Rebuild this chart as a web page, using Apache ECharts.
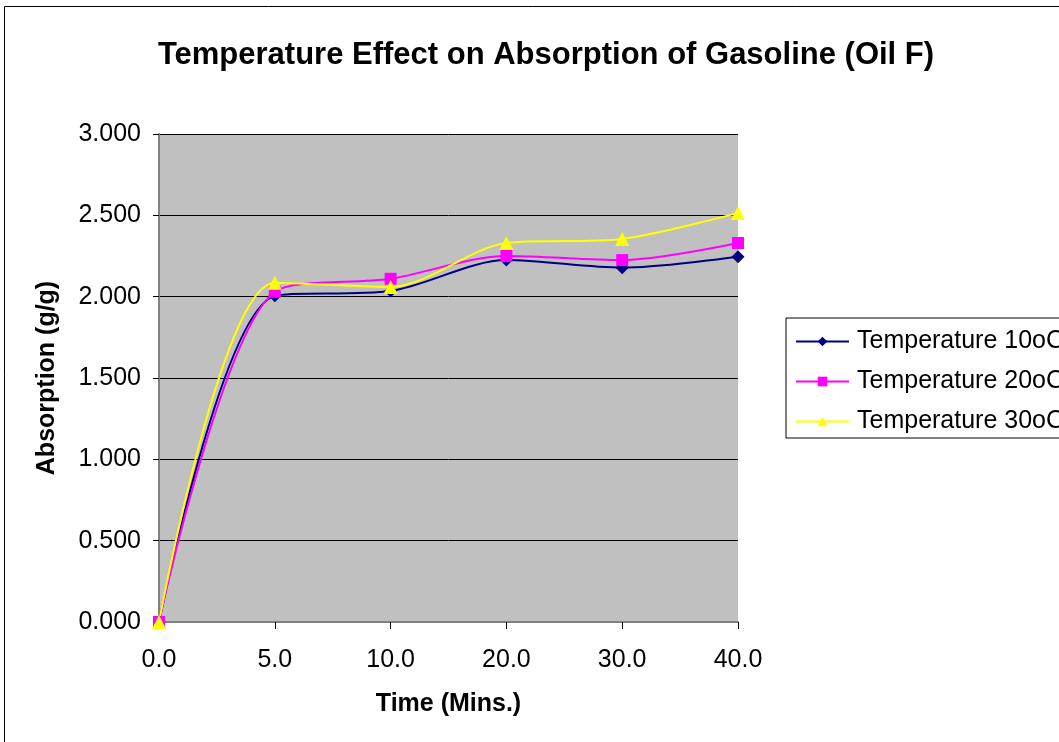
<!DOCTYPE html>
<html>
<head>
<meta charset="utf-8">
<script src="https://cdn.jsdelivr.net/npm/echarts@6/dist/echarts.min.js"></script>
<style>
html,body{margin:0;padding:0;background:#fff;overflow:hidden;}
#chart{width:1059px;height:742px;}
</style>
</head>
<body>
<div id="chart"></div>
<script>
// Absorption of gasoline (Oil F) over time at three temperatures
const times = ['0.0', '5.0', '10.0', '20.0', '30.0', '40.0'];
const temp10 = [0.000, 2.005, 2.035, 2.225, 2.178, 2.245];
const temp20 = [0.000, 2.030, 2.110, 2.250, 2.225, 2.330];
const temp30 = [0.000, 2.085, 2.060, 2.330, 2.355, 2.515];

const FONT = 'Liberation Sans, Arial, sans-serif';
const chart = echarts.init(document.getElementById('chart'));

function line(name, data, color, symbol, size) {
  return {
    name, type: 'line', data, smooth: 0.3,
    symbol, symbolSize: size, showSymbol: true,
    lineStyle: { color, width: 2 },
    itemStyle: { color },
    z: 3
  };
}

chart.setOption({
  animation: false,
  backgroundColor: '#fff',
  title: {
    text: 'Temperature Effect on Absorption of Gasoline (Oil F)',
    left: 541, top: 35, textAlign: 'center',
    textStyle: { fontFamily: FONT, fontSize: 31, fontWeight: 'bold', color: '#000' }
  },
  graphic: [{
    type: 'rect', shape: { x: 4.5, y: 6.5, width: 1100, height: 800 },
    style: { fill: 'none', stroke: '#000', lineWidth: 1 }, silent: true
  }],
  legend: {
    orient: 'vertical', left: 786, top: 318,
    itemWidth: 53, itemHeight: 12, itemGap: 15,
    backgroundColor: '#fff', borderColor: '#000', borderWidth: 1,
    padding: [11, 40, 4, 9],
    textStyle: { fontFamily: FONT, fontSize: 25, color: '#000', padding: [0, 0, 0, 3] },
    data: ['Temperature 10oC', 'Temperature 20oC', 'Temperature 30oC']
  },
  grid: { left: 159, top: 134, width: 579, height: 488, show: true, backgroundColor: '#C0C0C0', borderWidth: 0 },
  xAxis: {
    type: 'category', data: times, boundaryGap: false,
    name: 'Time (Mins.)', nameLocation: 'middle', nameGap: 70,
    nameTextStyle: { fontFamily: FONT, fontSize: 25, fontWeight: 'bold', color: '#000' },
    axisLine: { lineStyle: { color: '#808080', width: 2 } },
    axisTick: { show: true, length: 7, lineStyle: { color: '#000' } },
    axisLabel: { fontFamily: FONT, fontSize: 25, color: '#000', margin: 26 },
    splitLine: { show: false }
  },
  yAxis: {
    type: 'value', min: 0, max: 3, interval: 0.5,
    name: 'Absorption (g/g)', nameLocation: 'middle', nameGap: 99, nameRotate: 90,
    nameTextStyle: { fontFamily: FONT, fontSize: 25, fontWeight: 'bold', color: '#000' },
    axisLine: { show: true, lineStyle: { color: '#808080', width: 2 } },
    axisTick: { show: true, length: 6, lineStyle: { color: '#000' } },
    axisLabel: { fontFamily: FONT, fontSize: 25, color: '#000', margin: 18,
      formatter: v => v.toFixed(3) },
    splitLine: { show: true, lineStyle: { color: '#000', width: 1 } }
  },
  series: [
    line('Temperature 10oC', temp10, '#000080', 'diamond', 13),
    line('Temperature 20oC', temp20, '#FF00FF', 'rect', 12),
    line('Temperature 30oC', temp30, '#FFFF00', 'triangle', 14)
  ]
});
</script>
</body>
</html>
